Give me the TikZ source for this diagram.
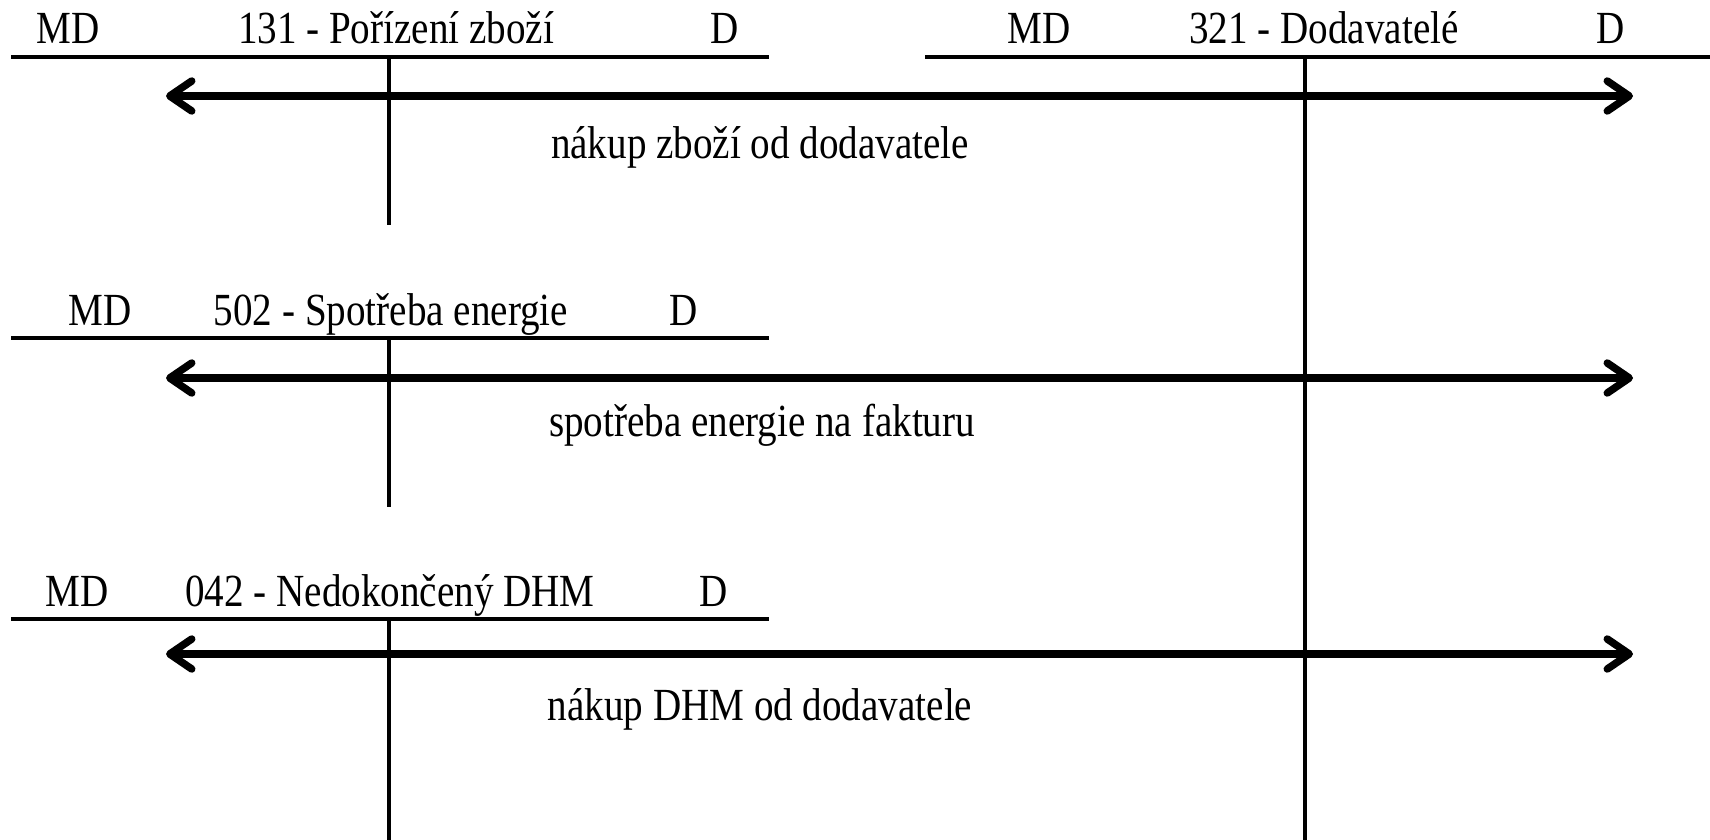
\documentclass[tikz,border=0pt]{standalone}
\usepackage{fontspec}
\setmainfont{Liberation Serif}[FakeStretch=0.85]
\usetikzlibrary{arrows.meta}
\begin{document}
\begin{tikzpicture}[x=1pt,y=-1pt,
  acct/.style={line width=4pt},
  flow/.style={line width=7.5pt,
    {Straight Barb[length=22pt,width=30pt,line cap=round,line join=round]}-{Straight Barb[length=22pt,width=30pt,line cap=round,line join=round]}},
  lbl/.style={anchor=base,inner sep=0pt,font=\fontsize{46}{54}\selectfont}]
\useasboundingbox (0,0) rectangle (1710,840);

% account 131
\coordinate (a1l) at (11,57);  \coordinate (a1r) at (769,57);
\coordinate (a1t) at (389,57); \coordinate (a1b) at (389,225);
\draw[acct] (a1l) -- (a1r);
\draw[acct] (a1t) -- (a1b);
\node[lbl] (a1md) at (68,44) {MD};
\node[lbl] (a1n) at (396,44) {131 - Pořízení zboží};
\node[lbl] (a1d) at (725,44) {D};

% account 321
\coordinate (a2l) at (925,57); \coordinate (a2r) at (1710,57);
\coordinate (a2t) at (1305,57); \coordinate (a2b) at (1305,840);
\draw[acct] (a2l) -- (a2r);
\draw[acct] (a2t) -- (a2b);
\node[lbl] (a2md) at (1039,44) {MD};
\node[lbl] (a2n) at (1324,44) {321 - Dodavatelé};
\node[lbl] (a2d) at (1611,44) {D};

% account 502
\coordinate (a3l) at (11,338);  \coordinate (a3r) at (769,338);
\coordinate (a3t) at (389,338); \coordinate (a3b) at (389,507);
\draw[acct] (a3l) -- (a3r);
\draw[acct] (a3t) -- (a3b);
\node[lbl] (a3md) at (100,325) {MD};
\node[lbl] (a3n) at (391,325) {502 - Spotřeba energie};
\node[lbl] (a3d) at (684,325) {D};

% account 042
\coordinate (a4l) at (11,619);  \coordinate (a4r) at (769,619);
\coordinate (a4t) at (389,619); \coordinate (a4b) at (389,840);
\draw[acct] (a4l) -- (a4r);
\draw[acct] (a4t) -- (a4b);
\node[lbl] (a4md) at (77,606) {MD};
\node[lbl] (a4n) at (390,606) {042 - Nedokončený DHM};
\node[lbl] (a4d) at (714,606) {D};

% bookings
\coordinate (f1l) at (166,96);  \coordinate (f1r) at (1633,96);
\coordinate (f2l) at (166,378); \coordinate (f2r) at (1633,378);
\coordinate (f3l) at (166,654); \coordinate (f3r) at (1633,654);
\draw[flow] (f1l) -- (f1r);
\draw[flow] (f2l) -- (f2r);
\draw[flow] (f3l) -- (f3r);
\node[lbl] (t1) at (760,158) {nákup zboží od dodavatele};
\node[lbl] (t2) at (762,436) {spotřeba energie na fakturu};
\node[lbl] (t3) at (760,720) {nákup DHM od dodavatele};
\end{tikzpicture}
\end{document}
